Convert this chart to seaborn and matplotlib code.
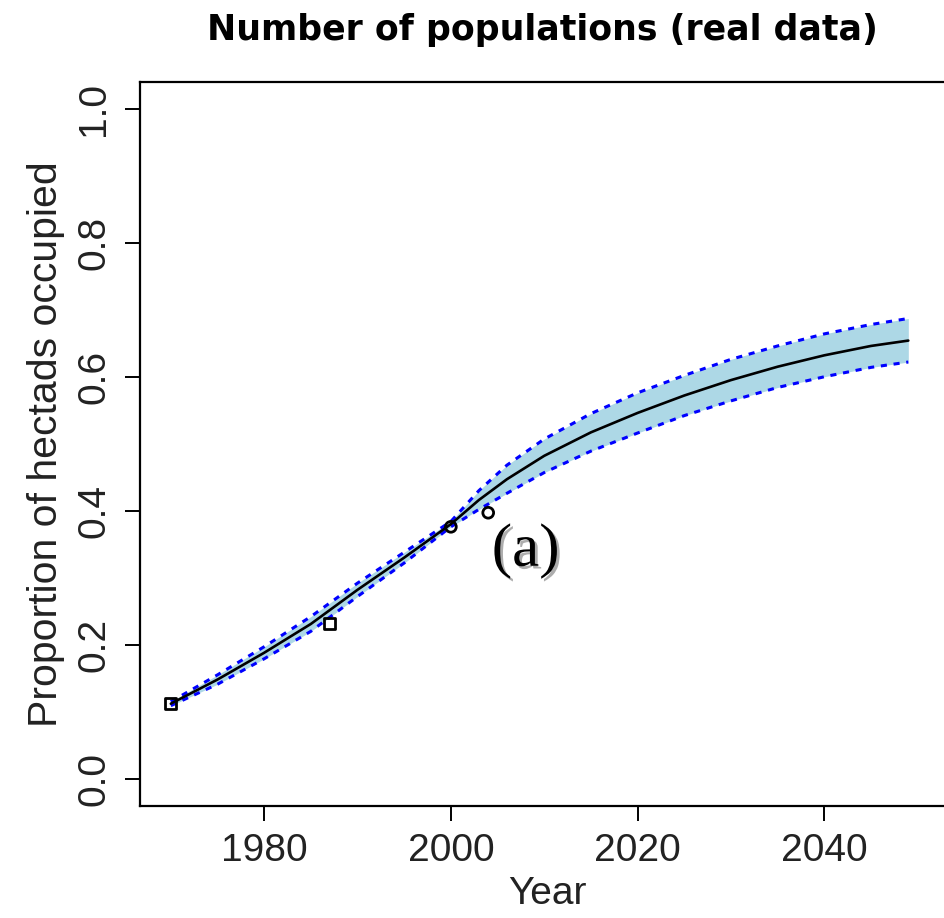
import matplotlib
matplotlib.use("Agg")
import matplotlib.pyplot as plt
import matplotlib.patheffects as pe
from matplotlib import font_manager
import pandas as pd
import seaborn as sns

# Projected occupancy (mean) with its uncertainty envelope
years = [1970, 1975, 1980, 1985, 1990, 1995, 2000, 2003, 2006, 2010, 2015,
         2020, 2025, 2030, 2035, 2040, 2045, 2049]
mean_prop = [0.112, 0.148, 0.188, 0.231, 0.282, 0.330, 0.380, 0.416, 0.447,
             0.482, 0.517, 0.546, 0.572, 0.595, 0.615, 0.632, 0.646, 0.654]
lower_prop = [0.109, 0.141, 0.179, 0.220, 0.272, 0.322, 0.376, 0.402, 0.426,
              0.457, 0.489, 0.516, 0.542, 0.564, 0.584, 0.600, 0.614, 0.622]
upper_prop = [0.115, 0.155, 0.197, 0.242, 0.292, 0.338, 0.384, 0.430, 0.468,
              0.507, 0.545, 0.576, 0.602, 0.626, 0.646, 0.664, 0.678, 0.687]

# Observed survey values
obs_years = [1970, 1987, 2000, 2004]
obs_prop = [0.112, 0.232, 0.376, 0.397]
obs_kind = ["square", "square", "circle", "circle"]

title_text = "Number of populations (real data)"
xlabel_text = "Year"
ylabel_text = "Proportion of hectads occupied"
panel_tag = "(a)"

sns.set_theme(style="ticks")

installed = {f.name for f in font_manager.fontManager.ttflist}
sans = "Liberation Sans" if "Liberation Sans" in installed else "DejaVu Sans"
serif = "Liberation Serif" if "Liberation Serif" in installed else "DejaVu Serif"
plt.rcParams["font.family"] = [sans, "DejaVu Sans"]

proj = pd.DataFrame({"year": years, "mean": mean_prop,
                     "lower": lower_prop, "upper": upper_prop})
obs = pd.DataFrame({"year": obs_years, "prop": obs_prop, "kind": obs_kind})

fig = plt.figure(figsize=(9.45, 9.18), dpi=100)
ax = fig.add_axes([140 / 945, 1 - 805.5 / 918, 815 / 945, (805.5 - 82) / 918])

ax.fill_between(proj["year"], proj["lower"], proj["upper"],
                color="#ADD8E6", linewidth=0, zorder=1)
dotted = (0, (2.0, 2.2))
sns.lineplot(data=proj, x="year", y="lower", ax=ax, color="#0000FF",
             linewidth=2.2, linestyle=dotted, zorder=2)
sns.lineplot(data=proj, x="year", y="upper", ax=ax, color="#0000FF",
             linewidth=2.2, linestyle=dotted, zorder=2)
sns.lineplot(data=proj, x="year", y="mean", ax=ax, color="black",
             linewidth=1.9, zorder=3)
sns.scatterplot(data=obs, x="year", y="prop", style="kind", ax=ax,
                markers={"square": "s", "circle": "o"}, s=60,
                facecolor="none", edgecolor="black", linewidth=2.0,
                legend=False, zorder=4)

ax.set_xlim(1966.7, 2054.0)
ax.set_ylim(-0.04, 1.04)
ax.set_xticks([1980, 2000, 2020, 2040])
ax.set_yticks([0.0, 0.2, 0.4, 0.6, 0.8, 1.0])
ax.set_yticklabels(["0.0", "0.2", "0.4", "0.6", "0.8", "1.0"],
                   rotation=90, va="center")

for side in ["left", "bottom", "top", "right"]:
    ax.spines[side].set_visible(True)
    ax.spines[side].set_linewidth(1.6)
    ax.spines[side].set_color("black")

ax.tick_params(axis="both", direction="out", length=11, width=1.4,
               color="black", labelsize=28, labelcolor="#222222", pad=9)

ax.set_xlabel(xlabel_text, fontsize=28, color="#222222", labelpad=5)
ax.set_ylabel(ylabel_text, fontsize=29.5, color="#222222", labelpad=8)

fig.text(542 / 945, 1 - 30 / 918, title_text, ha="center", va="center",
         fontsize=25, fontweight="bold", color="black",
         family=["DejaVu Sans"])

ax.text(2008.0, 0.340, panel_tag, ha="center", va="center", fontsize=44,
        family=serif, color="black", zorder=5,
        path_effects=[pe.withSimplePatchShadow(offset=(2, -2),
                                               shadow_rgbFace="#999999",
                                               alpha=0.8)])

fig.savefig("out.png", dpi=100)
